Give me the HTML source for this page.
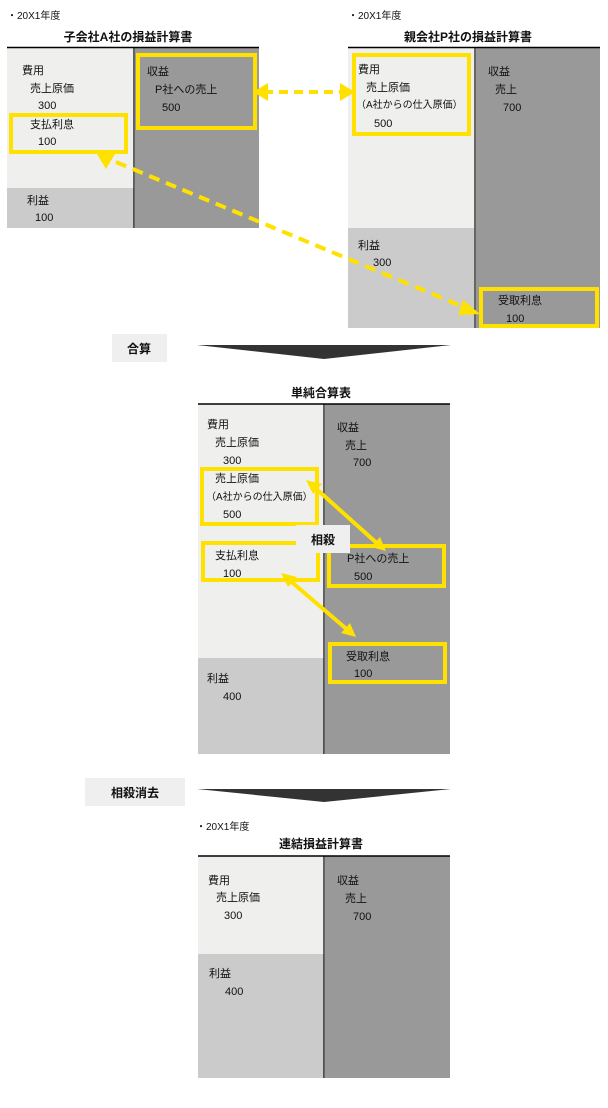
<!DOCTYPE html>
<html><head><meta charset="utf-8"><style>
html,body{margin:0;padding:0;background:#fff;}
svg{display:block;}
text{font-family:"Liberation Sans","Noto Sans CJK JP",sans-serif;font-size:11px;fill:#111;}
.b{font-weight:bold;font-size:12px;}
.s{font-size:10px;}
</style></head><body>
<svg width="608" height="1108" viewBox="0 0 608 1108" xmlns="http://www.w3.org/2000/svg">

<!-- Top-left table -->
<text x="7" y="19" class="s">・20X1年度</text>
<text x="128" y="41" class="b" text-anchor="middle">子会社A社の損益計算書</text>
<rect x="7" y="48" width="127" height="140" fill="#efefed"/>
<rect x="7" y="188" width="127" height="40" fill="#cbcbcb"/>
<rect x="135" y="48" width="124" height="180" fill="#999"/>
<line x1="7" y1="47.5" x2="259" y2="47.5" stroke="#000" stroke-width="1.5"/>
<line x1="134" y1="48" x2="134" y2="228" stroke="#000" stroke-width="1.2"/>
<text x="22" y="74">費用</text>
<text x="30" y="92">売上原価</text>
<text x="38" y="109">300</text>
<text x="30" y="128">支払利息</text>
<text x="38" y="145">100</text>
<text x="27" y="204">利益</text>
<text x="35" y="221">100</text>
<text x="147" y="75">収益</text>
<text x="155" y="93">P社への売上</text>
<text x="162" y="111">500</text>
<rect x="138" y="55" width="117" height="73" fill="none" stroke="#ffe100" stroke-width="4"/>
<rect x="11" y="115" width="115" height="37" fill="none" stroke="#ffe100" stroke-width="4"/>

<!-- Top-right table -->
<text x="348" y="19" class="s">・20X1年度</text>
<text x="468" y="41" class="b" text-anchor="middle">親会社P社の損益計算書</text>
<rect x="348" y="48" width="126" height="180" fill="#efefed"/>
<rect x="348" y="228" width="126" height="100" fill="#cbcbcb"/>
<rect x="476" y="48" width="124" height="280" fill="#999"/>
<line x1="348" y1="47.5" x2="600" y2="47.5" stroke="#000" stroke-width="1.5"/>
<line x1="475" y1="48" x2="475" y2="328" stroke="#000" stroke-width="1.2"/>
<text x="358" y="73">費用</text>
<text x="366" y="91">売上原価</text>
<text x="356" y="108" class="s">（A社からの仕入原価）</text>
<text x="374" y="127">500</text>
<text x="358" y="249">利益</text>
<text x="373" y="266">300</text>
<text x="488" y="75">収益</text>
<text x="495" y="93">売上</text>
<text x="503" y="111">700</text>
<text x="498" y="304">受取利息</text>
<text x="506" y="322">100</text>
<rect x="354" y="55" width="115" height="79" fill="none" stroke="#ffe100" stroke-width="4"/>
<rect x="481" y="289" width="116" height="37" fill="none" stroke="#ffe100" stroke-width="4"/>

<!-- dashed arrows -->
<line x1="264" y1="92" x2="342" y2="92" stroke="#ffe100" stroke-width="4" stroke-dasharray="9,6"/>
<polygon points="253,92 268,83 268,101" fill="#ffe100"/>
<polygon points="355,92 340,83 340,101" fill="#ffe100"/>
<polygon points="97,154 115,154 106,169" fill="#ffe100"/>
<line x1="116" y1="162" x2="466" y2="308" stroke="#ffe100" stroke-width="4" stroke-dasharray="11,7"/>
<polygon points="480,314 463,300 458,315" fill="#ffe100"/>

<!-- 合算 -->
<rect x="112" y="334" width="55" height="28" fill="#efefef"/>
<text x="139" y="353" class="b" text-anchor="middle">合算</text>
<polygon points="197,345 451,345 324,359" fill="#333"/>

<!-- Middle table -->
<text x="321" y="397" class="b" text-anchor="middle">単純合算表</text>
<rect x="198" y="404" width="126" height="254" fill="#efefed"/>
<rect x="198" y="658" width="126" height="96" fill="#cbcbcb"/>
<rect x="325" y="404" width="125" height="350" fill="#999"/>
<line x1="198" y1="404" x2="450" y2="404" stroke="#000" stroke-width="1.5"/>
<line x1="324" y1="404" x2="324" y2="754" stroke="#000" stroke-width="1.2"/>
<text x="207" y="428">費用</text>
<text x="215" y="446">売上原価</text>
<text x="223" y="464">300</text>
<text x="215" y="482">売上原価</text>
<text x="206" y="500" class="s">（A社からの仕入原価）</text>
<text x="223" y="518">500</text>
<text x="215" y="559">支払利息</text>
<text x="223" y="577">100</text>
<text x="207" y="682">利益</text>
<text x="223" y="700">400</text>
<text x="337" y="431">収益</text>
<text x="345" y="449">売上</text>
<text x="353" y="466">700</text>
<text x="347" y="562">P社への売上</text>
<text x="354" y="580">500</text>
<text x="346" y="660">受取利息</text>
<text x="354" y="677">100</text>
<rect x="202" y="469" width="115" height="55" fill="none" stroke="#ffe100" stroke-width="4"/>
<rect x="203" y="543" width="115" height="37" fill="none" stroke="#ffe100" stroke-width="4"/>
<rect x="329" y="546" width="115" height="40" fill="none" stroke="#ffe100" stroke-width="4"/>
<rect x="330" y="644" width="115" height="38" fill="none" stroke="#ffe100" stroke-width="4"/>
<line x1="312" y1="485" x2="380" y2="546" stroke="#ffe100" stroke-width="4"/>
<polygon points="306,480 322,484 313,494" fill="#ffe100"/>
<polygon points="386,551 371,547 380,537" fill="#ffe100"/>
<line x1="287" y1="578" x2="350" y2="632" stroke="#ffe100" stroke-width="4"/>
<polygon points="281,573 297,577 288,587" fill="#ffe100"/>
<polygon points="356,637 341,633 350,623" fill="#ffe100"/>
<rect x="296" y="525" width="54" height="28" fill="#efefef"/>
<text x="323" y="544" class="b" text-anchor="middle">相殺</text>

<!-- 相殺消去 -->
<rect x="85" y="778" width="100" height="28" fill="#efefef"/>
<text x="135" y="797" class="b" text-anchor="middle">相殺消去</text>
<polygon points="197,789 451,789 324,802" fill="#333"/>

<!-- Bottom table -->
<text x="196" y="830" class="s">・20X1年度</text>
<text x="321" y="848" class="b" text-anchor="middle">連結損益計算書</text>
<rect x="198" y="856" width="126" height="98" fill="#efefed"/>
<rect x="198" y="954" width="126" height="124" fill="#cbcbcb"/>
<rect x="325" y="856" width="125" height="222" fill="#999"/>
<line x1="198" y1="856" x2="450" y2="856" stroke="#000" stroke-width="1.5"/>
<line x1="324" y1="856" x2="324" y2="1078" stroke="#000" stroke-width="1.2"/>
<text x="208" y="884">費用</text>
<text x="216" y="901">売上原価</text>
<text x="224" y="919">300</text>
<text x="209" y="977">利益</text>
<text x="225" y="995">400</text>
<text x="337" y="884">収益</text>
<text x="345" y="902">売上</text>
<text x="353" y="920">700</text>
</svg>
</body></html>
